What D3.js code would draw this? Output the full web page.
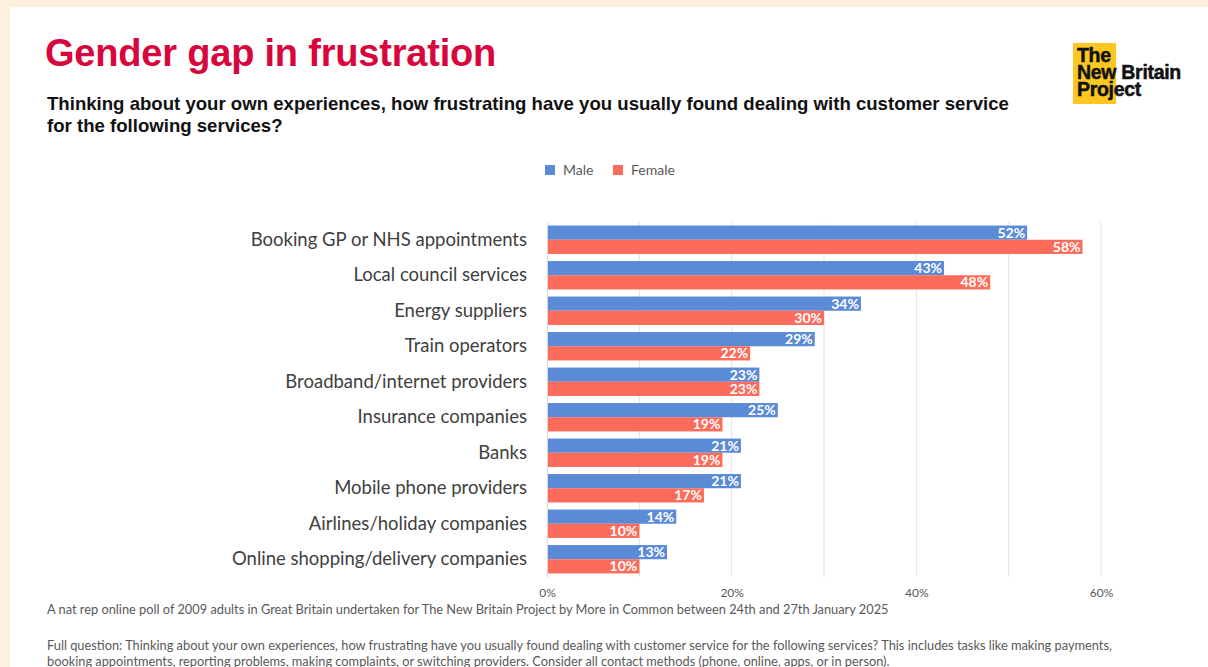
<!DOCTYPE html>
<html>
<head>
<meta charset="utf-8">
<script src="https://cdn.jsdelivr.net/npm/d3@7"></script>
<style>
  html, body { margin: 0; padding: 0; background: #fdf1de; }
  svg { display: block; }
</style>
</head>
<body>
<svg id="chart" width="1208" height="667"></svg>
<script>
// Survey results: share finding customer service frustrating, by gender
const categories = [
  "Booking GP or NHS appointments",
  "Local council services",
  "Energy suppliers",
  "Train operators",
  "Broadband/internet providers",
  "Insurance companies",
  "Banks",
  "Mobile phone providers",
  "Airlines/holiday companies",
  "Online shopping/delivery companies"
];
const maleValues   = [52, 43, 34, 29, 23, 25, 21, 21, 14, 13];
const femaleValues = [58, 48, 30, 22, 23, 19, 19, 17, 10, 10];
const seriesNames  = ["Male", "Female"];
const axisTicks    = [0, 20, 40, 60];
const gridTicks    = [10, 20, 30, 40, 50, 60];

const colors = { Male: "#5b8bd7", Female: "#fd6b5b" };

const svg = d3.select("#chart");

// white card on cream page
svg.append("rect").attr("x", 10).attr("y", 7).attr("width", 1198).attr("height", 660).attr("fill", "#ffffff");

// Title and question
svg.append("text").attr("x", 45).attr("y", 66)
  .attr("font-family", "Liberation Sans, Arial, sans-serif").attr("font-weight", "bold")
  .attr("font-size", 38).attr("fill", "#d8063c").attr("letter-spacing", -0.2)
  .text("Gender gap in frustration");

const sub = svg.append("text").attr("font-family", "Liberation Sans, Arial, sans-serif")
  .attr("font-weight", "bold").attr("font-size", 18.6).attr("fill", "#111");
sub.append("tspan").attr("x", 47).attr("y", 110)
  .text("Thinking about your own experiences, how frustrating have you usually found dealing with customer service");
sub.append("tspan").attr("x", 47).attr("y", 132).text("for the following services?");

// Logo block
const logo = svg.append("g");
logo.append("rect").attr("x", 1073).attr("y", 43).attr("width", 43).attr("height", 61).attr("fill", "#fcc721");
[["The", 62], ["New Britain", 79], ["Project", 96]].forEach(([t, yy]) =>
  logo.append("text").attr("x", 1077).attr("y", yy)
    .attr("font-family", "Liberation Sans, Arial, sans-serif")
    .attr("font-weight", "bold").attr("font-size", 19.5).attr("fill", "#111")
    .attr("letter-spacing", -0.3).attr("stroke", "#111").attr("stroke-width", 0.5)
    .text(t));

// Scales
const x = d3.scaleLinear().domain([0, 60]).range([547, 1101]);
const y = d3.scaleBand().domain(categories).range([222, 577]).paddingInner(0.2).paddingOuter(0.1);
const ySeries = d3.scaleBand().domain(seriesNames).range([0, y.bandwidth()]);

const labelFont = "Lato, 'Open Sans', sans-serif";

// Gridlines
svg.append("g").selectAll("line").data(gridTicks).join("line")
  .attr("x1", d => x(d)).attr("x2", d => x(d))
  .attr("y1", 222).attr("y2", 577)
  .attr("stroke", "#e3e3e3").attr("stroke-width", 1);

// Legend
const legend = svg.append("g").attr("font-family", labelFont).attr("font-size", 14).attr("fill", "#595959");
const legendX = { Male: 545, Female: 613 };
seriesNames.forEach(s => {
  legend.append("rect").attr("x", legendX[s]).attr("y", 165).attr("width", 10).attr("height", 10).attr("fill", colors[s]);
  legend.append("text").attr("x", legendX[s] + 18).attr("y", 175).text(s);
});

// Bars
const rows = categories.map((c, i) => ({ c, Male: maleValues[i], Female: femaleValues[i] }));
const groups = svg.append("g").selectAll("g").data(rows).join("g")
  .attr("transform", d => `translate(0,${y(d.c)})`);

groups.selectAll("rect").data(d => seriesNames.map(s => ({ s, v: d[s] }))).join("rect")
  .attr("x", x(0))
  .attr("y", d => ySeries(d.s))
  .attr("width", d => x(d.v) - x(0))
  .attr("height", ySeries.bandwidth())
  .attr("fill", d => colors[d.s]);

groups.selectAll("text.val").data(d => seriesNames.map(s => ({ s, v: d[s] }))).join("text")
  .attr("class", "val")
  .attr("x", d => x(d.v) - 2)
  .attr("y", d => ySeries(d.s) + ySeries.bandwidth() / 2)
  .attr("dy", "0.36em")
  .attr("text-anchor", "end")
  .attr("font-family", labelFont).attr("font-weight", "bold").attr("font-size", 14)
  .attr("fill", "#ffffff")
  .text(d => d.v + "%");

// Category axis
const yAxis = svg.append("g").attr("transform", `translate(${x(0)},0)`)
  .call(d3.axisLeft(y).tickSize(0).tickPadding(20));
yAxis.select(".domain").attr("stroke", "#d9d9d9");
yAxis.selectAll("text").attr("font-family", labelFont).attr("font-size", 18.5).attr("fill", "#404040");

// Value axis
const xAxis = svg.append("g").attr("transform", "translate(0,577)")
  .call(d3.axisBottom(x).tickValues(axisTicks).tickFormat(d => d + "%").tickSize(0).tickPadding(11));
xAxis.select(".domain").remove();
xAxis.selectAll("text").attr("font-family", labelFont).attr("font-size", 12).attr("fill", "#595959");

// Footnotes
const foot = svg.append("g").attr("font-family", labelFont).attr("font-size", 12.8).attr("fill", "#595959");
foot.append("text").attr("x", 47).attr("y", 614)
  .text("A nat rep online poll of 2009 adults in Great Britain undertaken for The New Britain Project by More in Common between 24th and 27th January 2025");
foot.append("text").attr("x", 47).attr("y", 650)
  .text("Full question: Thinking about your own experiences, how frustrating have you usually found dealing with customer service for the following services? This includes tasks like making payments,");
foot.append("text").attr("x", 47).attr("y", 666)
  .text("booking appointments, reporting problems, making complaints, or switching providers. Consider all contact methods (phone, online, apps, or in person).");
</script>
</body>
</html>
